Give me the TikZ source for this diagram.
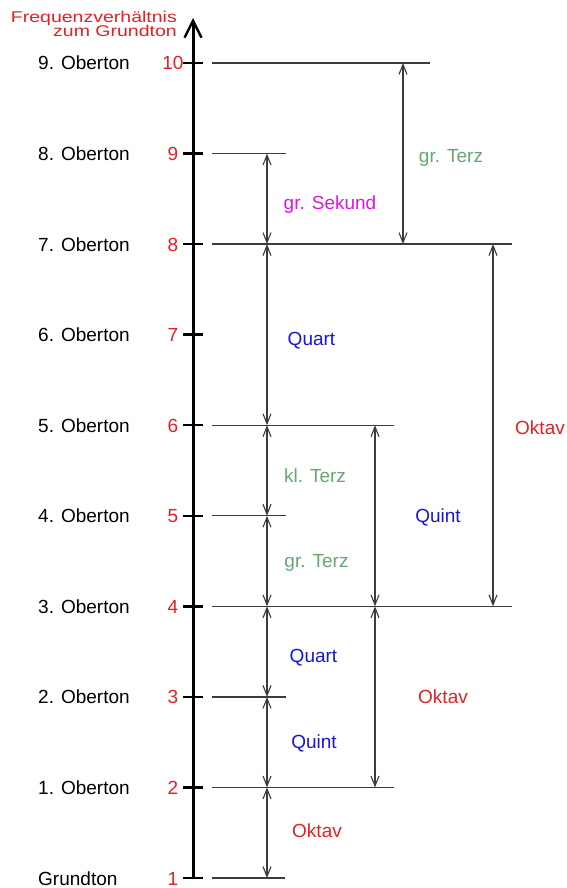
\documentclass[tikz,border=0pt]{standalone}
\usepackage{fontspec}
\setmainfont{Liberation Sans}
\usetikzlibrary{arrows.meta}
\definecolor{ratiored}{RGB}{228,32,38}
\definecolor{intgreen}{RGB}{100,168,112}
\definecolor{intblue}{RGB}{22,22,212}
\definecolor{intmagenta}{RGB}{226,20,226}
\definecolor{lineg}{RGB}{60,60,60}
\begin{document}
\begin{tikzpicture}[x=1pt,y=-1pt,
  txt/.style={inner sep=0pt,font=\fontsize{19}{22}\selectfont},
  ttl/.style={inner sep=0pt,font=\fontsize{15.6}{18}\selectfont,text=ratiored},
  level/.style={draw=lineg,line width=1.3pt},
  tickmark/.style={draw=black,line width=2.5pt},
  span/.style={draw=lineg,line width=1.2pt,
    {Straight Barb[length=10pt,width=8pt,line width=1.1pt]}-{Straight Barb[length=10pt,width=8pt,line width=1.1pt]}},
  axisline/.style={draw=black,line width=3pt,-{Straight Barb[length=17pt,width=17pt,line width=2.4pt]}}
]
\useasboundingbox (0,0) rectangle (567,888);
\fill[white] (0,0) rectangle (567,888);

% levels on the frequency axis
\foreach \n in {1,...,10}{
  \pgfmathsetmacro\yy{878-(\n-1)*90.56}
  \coordinate (t\n) at (193,\yy);
  \coordinate (s\n) at (212,\yy);
  \coordinate (A\n) at (267,\yy);
  \coordinate (B\n) at (375,\yy);
  \coordinate (C\n) at (403,\yy);
  \coordinate (D\n) at (493,\yy);
}
\coordinate (bottom) at (193,879);
\coordinate (top) at (193,18);

% axis
\draw[axisline] (bottom) -- (top);
\foreach \n in {1,...,10}{
  \draw[tickmark] ([xshift=-10pt]t\n) -- ([xshift=10pt]t\n);
}

% labels and ratios
\foreach \n/\lab in {1/Grundton,2/1. Oberton,3/2. Oberton,4/3. Oberton,5/4. Oberton,
                     6/5. Oberton,7/6. Oberton,8/7. Oberton,9/8. Oberton,10/9. Oberton}{
  \node[txt,anchor=base west] (lab\n) at ([yshift=-7pt]t\n -| 38,0) {\lab};
  \node[txt,anchor=base,text=ratiored] (num\n) at ([yshift=-7pt]t\n -| 173,0) {\n};
}

\node[ttl,anchor=base east] (title1) at (177,23) {\scalebox{1.25}[1]{Frequenzverhältnis}};
\node[ttl,anchor=base east] (title2) at (177,37) {\scalebox{1.25}[1]{zum Grundton}};

% horizontal reference lines
\foreach \n/\xe in {1/285,2/394,3/286,4/512,5/286,6/394,8/512,9/286,10/430}{
  \coordinate (e\n) at (s\n -| \xe,0);
  \draw[level] (s\n) -- (e\n);
}

% interval arrows
\draw[span] (A1) -- (A2);
\draw[span] (A2) -- (A3);
\draw[span] (A3) -- (A4);
\draw[span] (A4) -- (A5);
\draw[span] (A5) -- (A6);
\draw[span] (A6) -- (A8);
\draw[span] (A8) -- (A9);
\draw[span] (B2) -- (B4);
\draw[span] (B4) -- (B6);
\draw[span] (C8) -- (C10);
\draw[span] (D4) -- (D8);

% interval names
\node[txt,anchor=base,text=intgreen]   (i1)  at (451,162) {gr. Terz};
\node[txt,anchor=base,text=intmagenta] (i2)  at (330,209) {gr. Sekund};
\node[txt,anchor=base,text=intblue]    (i3)  at (311.5,345) {Quart};
\node[txt,anchor=base,text=ratiored]   (i4)  at (540,434) {Oktav};
\node[txt,anchor=base,text=intgreen]   (i5)  at (315,482) {kl. Terz};
\node[txt,anchor=base,text=intblue]    (i6)  at (438,522) {Quint};
\node[txt,anchor=base,text=intgreen]   (i7)  at (316.5,567) {gr. Terz};
\node[txt,anchor=base,text=intblue]    (i8)  at (313.5,662) {Quart};
\node[txt,anchor=base,text=ratiored]   (i9)  at (443,703) {Oktav};
\node[txt,anchor=base,text=intblue]    (i10) at (314,748) {Quint};
\node[txt,anchor=base,text=ratiored]   (i11) at (317,837) {Oktav};
\end{tikzpicture}
\end{document}
